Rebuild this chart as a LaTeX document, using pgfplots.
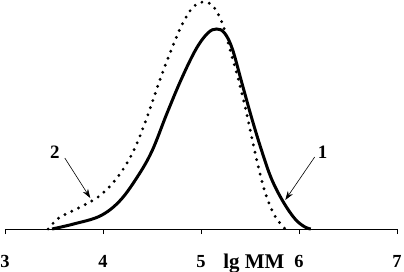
\documentclass[border=0pt]{standalone}
\usepackage{pgfplots}
\pgfplotsset{compat=1.18}
\usepackage{fontspec}
\setmainfont{Liberation Serif}
\usetikzlibrary{arrows.meta}
\tikzset{tlab/.style={font=\fontsize{18.5}{20}\selectfont\bfseries, anchor=base, inner sep=0pt}}
\begin{document}
\begin{tikzpicture}
\useasboundingbox (-5bp,-43bp) rectangle (399bp,229bp);
\begin{axis}[
  at={(0,0)}, anchor=south west,
  scale only axis, width=392bp, height=229bp,
  xmin=3, xmax=7, ymin=0, ymax=229,
  axis x line=bottom, axis y line=none,
  x axis line style={-, line width=0.8bp},
  xtick={3,4,5,6,7},
  xticklabels={},
  tick align=outside, major tick length=5bp,
  every tick/.style={black, line width=0.8bp},
  clip=false,
]
\addplot[black, line width=3bp, smooth, tension=0.6] coordinates {
(3.48,0) (3.7,5) (3.97,13) (4.17,28) (4.35,52) (4.5,78) (4.65,115) (4.8,150)
(4.95,180) (5.07,196) (5.16,200) (5.24,196) (5.32,180) (5.42,145) (5.52,110)
(5.62,78) (5.72,50) (5.84,27) (5.96,10) (6.06,2) (6.12,0)
};
\addplot[black, line width=3.2bp, line cap=round, dash pattern=on 0bp off 7.5bp, smooth, tension=0.6] coordinates {
(3.44,0) (3.55,11) (3.75,21) (3.95,32) (4.1,46) (4.22,62) (4.33,82) (4.45,112)
(4.58,149) (4.7,180) (4.81,205) (4.92,222) (5.03,227) (5.13,222) (5.22,205)
(5.3,178) (5.38,150) (5.46,118) (5.53,86) (5.6,56) (5.67,32) (5.76,12) (5.86,0)
};
\node[tlab] at (axis cs:3,-38) {3};
\node[tlab] at (axis cs:4,-38) {4};
\node[tlab] at (axis cs:5,-38) {5};
\node[tlab] at (axis cs:6,-38) {6};
\node[tlab] at (axis cs:7,-38) {7};
\node[font=\fontsize{19}{21}\selectfont\bfseries] at (axis cs:3.51,77) {2};
\node[font=\fontsize{19}{21}\selectfont\bfseries] at (axis cs:6.24,77) {1};
\draw[-{Stealth[length=9bp,width=6bp]}, line width=0.6bp] (axis cs:3.61,71) -- (axis cs:3.87,31);
\draw[-{Stealth[length=9bp,width=6bp]}, line width=0.6bp] (axis cs:6.16,72) -- (axis cs:5.86,29);
\node[font=\fontsize{21}{23}\selectfont\bfseries, anchor=base, inner sep=0pt] at (axis cs:5.54,-39) {lg MM};
\end{axis}
\end{tikzpicture}
\end{document}
